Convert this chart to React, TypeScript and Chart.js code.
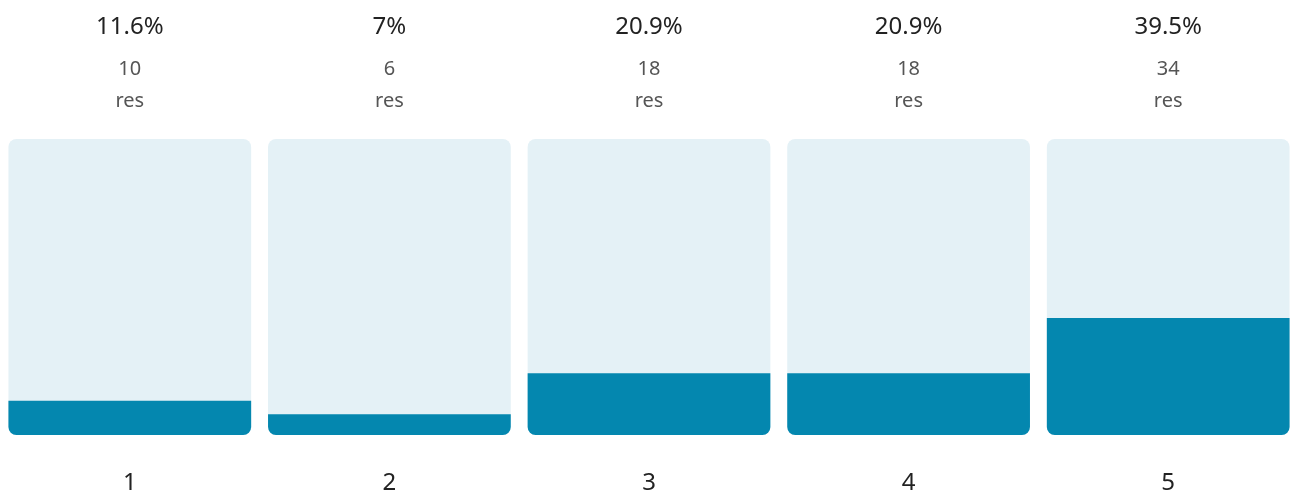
import React, { useEffect, useRef } from "react";
import { Chart, registerables } from "chart.js";

Chart.register(...registerables);

const categories = ["1", "2", "3", "4", "5"];
const percentages = [11.6, 7, 20.9, 20.9, 39.5];
const counts = [10, 6, 18, 18, 34];
const unitLabel = "res";
const fullValues = [100, 100, 100, 100, 100];

const FONT = "'Noto Sans', 'Open Sans', sans-serif";

const topLabels = {
  id: "topLabels",
  afterDraw(chart: any) {
    const ctx = chart.ctx;
    const meta = chart.getDatasetMeta(0);
    ctx.save();
    ctx.textAlign = "center";
    ctx.textBaseline = "middle";
    meta.data.forEach((bar: any, i: number) => {
      const x = bar.x;
      ctx.fillStyle = "#222222";
      ctx.font = `24px ${FONT}`;
      ctx.fillText(`${percentages[i]}%`, x, 27);
      ctx.fillStyle = "#555555";
      ctx.font = `20px ${FONT}`;
      ctx.fillText(String(counts[i]), x, 69);
      ctx.fillText(unitLabel, x, 101);
    });
    ctx.restore();
  },
};

export default function App() {
  const ref = useRef<HTMLCanvasElement | null>(null);
  useEffect(() => {
    document.body.style.margin = "0";
    const chart = new Chart(ref.current as HTMLCanvasElement, {
      type: "bar",
      data: {
        labels: categories,
        datasets: [
          {
            data: percentages,
            backgroundColor: "#0487AF",
            borderRadius: { topLeft: 0, topRight: 0, bottomLeft: 8, bottomRight: 8 },
            borderSkipped: false,
            barPercentage: 1,
            categoryPercentage: 0.935,
          },
          {
            data: fullValues,
            backgroundColor: "#E4F1F6",
            borderRadius: 8,
            borderSkipped: false,
            barPercentage: 1,
            categoryPercentage: 0.935,
          },
        ],
      },
      options: {
        animation: false,
        responsive: false,
        maintainAspectRatio: false,
        layout: { padding: { top: 139, bottom: 2, left: 0, right: 0 } },
        plugins: { legend: { display: false }, tooltip: { enabled: false } },
        scales: {
          x: {
            stacked: true,
            grid: { display: false, drawTicks: false },
            border: { display: false },
            afterFit: (scale: any) => {
              scale.height = 57;
            },
            ticks: {
              padding: 36,
              color: "#222222",
              font: { family: FONT, size: 24, lineHeight: 1 },
            },
          },
          y: {
            stacked: false,
            display: false,
            min: 0,
            max: 100,
          },
        },
      },
      plugins: [topLabels],
    });
    return () => chart.destroy();
  }, []);
  return (
    <div style={{ width: 1292, height: 494, overflow: "hidden" }}>
      <canvas ref={ref} width={1298} height={494} style={{ width: 1298, height: 494, display: "block" }} />
    </div>
  );
}
